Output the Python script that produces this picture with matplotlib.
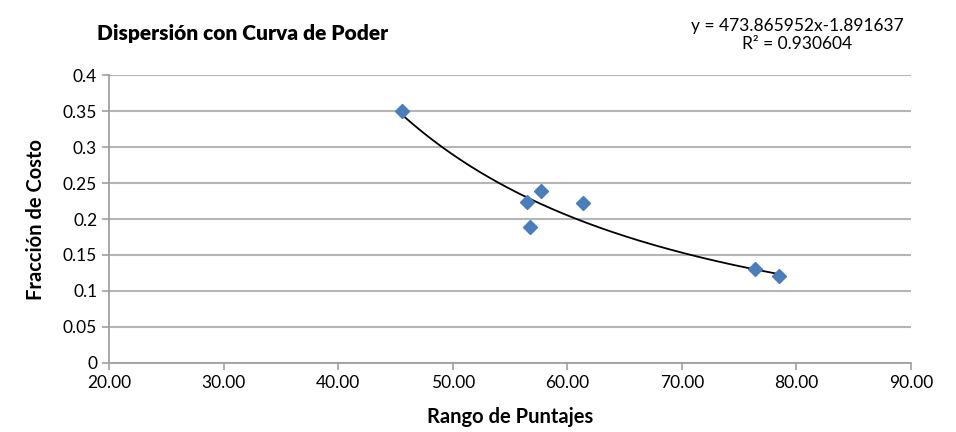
import numpy as np
import matplotlib.pyplot as plt

# data
rango = [45.6, 56.5, 57.7, 56.7, 61.4, 76.4, 78.5]
fraccion = [0.35, 0.224, 0.239, 0.189, 0.222, 0.130, 0.121]

# power trend line shown on the chart
coef_a = 473.865952
coef_b = -1.891637
r2 = 0.930604

y_ticks = [0, 0.05, 0.1, 0.15, 0.2, 0.25, 0.3, 0.35, 0.4]
y_labels = ["0", "0.05", "0.1", "0.15", "0.2", "0.25", "0.3", "0.35", "0.4"]
x_ticks = [20, 30, 40, 50, 60, 70, 80, 90]

plt.rcParams["font.family"] = ["Lato", "DejaVu Sans"]

fig = plt.figure(figsize=(9.56, 4.32), dpi=100)
ax = fig.add_axes([0.114, 0.160, 0.839, 0.666])

# trend line from min to max x
xs = np.linspace(min(rango), max(rango), 200)
ax.plot(xs, coef_a * xs ** coef_b, color="black", linewidth=1.3, zorder=2)

ax.plot(rango, fraccion, linestyle="none", marker="D", markersize=7.5,
        color="#4a7ebb", markeredgecolor="#4a7ebb", zorder=3)

ax.set_xlim(20, 90)
ax.set_ylim(0, 0.4)
ax.set_xticks(x_ticks)
ax.set_xticklabels([f"{v:.2f}" for v in x_ticks])
ax.set_yticks(y_ticks)
ax.set_yticklabels(y_labels)

ax.grid(axis="y", color="#b5b5b5", linewidth=1.5)
ax.set_axisbelow(True)
for side in ["top", "right"]:
    ax.spines[side].set_visible(False)
for side in ["left", "bottom"]:
    ax.spines[side].set_color("#a0a0a0")
    ax.spines[side].set_linewidth(1.3)
ax.tick_params(colors="#a0a0a0", labelcolor="black", labelsize=12.5,
               length=5, width=1.2)

ax.set_xlabel("Rango de Puntajes", fontsize=14.5, fontweight="bold", labelpad=12)
ax.set_ylabel("Fracción de Costo", fontsize=14.5, fontweight="bold", labelpad=12)

fig.text(0.101, 0.922, "Dispersión con Curva de Poder", fontsize=15,
         fontweight="heavy", va="center", ha="left")
fig.text(0.834, 0.92, f"y = {coef_a:.6f}x{coef_b:.6f}\nR² = {r2:.6f}",
         fontsize=12.5, ha="center", va="center", linespacing=1.15)

plt.savefig("out.png", dpi=100)
